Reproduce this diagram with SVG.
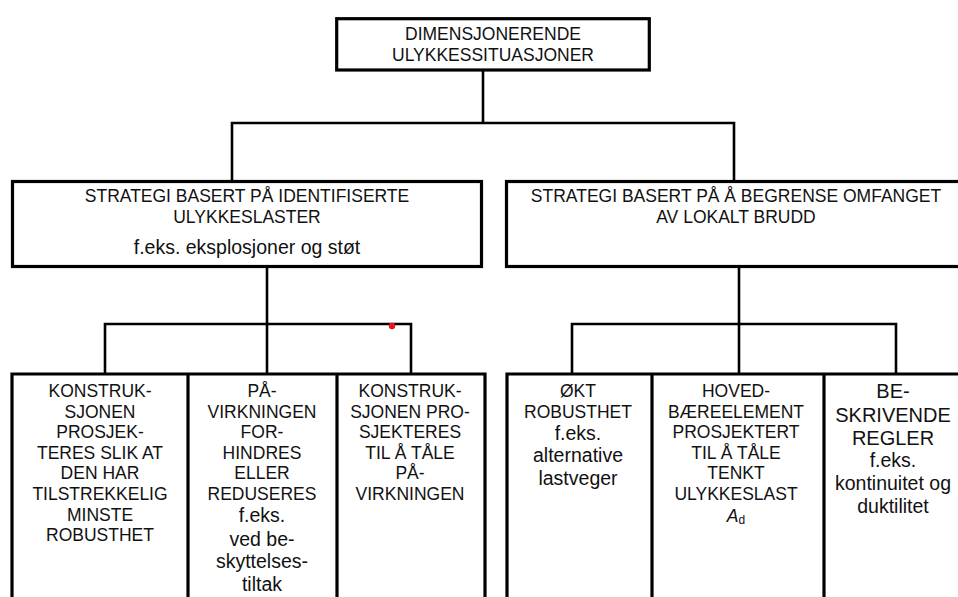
<svg xmlns="http://www.w3.org/2000/svg" width="958" height="597" viewBox="0 0 958 597">
<style>
text{font-family:"Liberation Sans",Arial,sans-serif;fill:#111;text-anchor:middle}
.c{font-size:17.5px}
.l{font-size:19.5px}
.b{font-size:20px}
.box{fill:#fff;stroke:#000;stroke-width:3.2}
.conn{fill:none;stroke:#000;stroke-width:2.6}
</style>
<rect width="958" height="597" fill="#fff"/>
<g id="connectors">
<path class="conn" d="M483 70 V123 M232 180 V123 H734 V180"/>
<path class="conn" d="M267 268 V324 M105 374 V324 H411 V374 M267 324 V374"/>
<path class="conn" d="M739 268 V324 M572 374 V324 H896 V374 M739 324 V374"/>
</g>
<g id="top">
<rect class="box" x="336.7" y="18.7" width="312.6" height="51.3"/>
<text class="c" x="493" y="40">DIMENSJONERENDE</text>
<text class="c" x="493" y="61">ULYKKESSITUASJONER</text>
</g>
<g id="strategy-left">
<rect class="box" x="12.5" y="181.5" width="469" height="85"/>
<text class="c" x="247" y="202">STRATEGI BASERT PÅ IDENTIFISERTE</text>
<text class="c" x="247" y="223">ULYKKESLASTER</text>
<text class="l" x="247" y="254">f.eks. eksplosjoner og støt</text>
</g>
<g id="strategy-right">
<rect class="box" x="506.5" y="181.5" width="470" height="85"/>
<text class="c" x="736" y="202">STRATEGI BASERT PÅ Å BEGRENSE OMFANGET</text>
<text class="c" x="736" y="223">AV LOKALT BRUDD</text>
</g>
<g id="bottom-left-frame">
<path class="box" d="M12 610 V374 H485 V610 M188 374 V610 M337 374 V610"/>
</g>
<g id="bottom-right-frame">
<path class="box" d="M507 610 V374 H975 M652 374 V610 M824 374 V610"/>
</g>
<g id="col1">
<text class="c" x="100" y="397">KONSTRUK-</text>
<text class="c" x="100" y="418">SJONEN</text>
<text class="c" x="100" y="438">PROSJEK-</text>
<text class="c" x="100" y="459">TERES SLIK AT</text>
<text class="c" x="100" y="479">DEN HAR</text>
<text class="c" x="100" y="500">TILSTREKKELIG</text>
<text class="c" x="100" y="521">MINSTE</text>
<text class="c" x="100" y="541">ROBUSTHET</text>
</g>
<g id="col2">
<text class="c" x="262" y="397">PÅ-</text>
<text class="c" x="262" y="418">VIRKNINGEN</text>
<text class="c" x="262" y="438">FOR-</text>
<text class="c" x="262" y="459">HINDRES</text>
<text class="c" x="262" y="479">ELLER</text>
<text class="c" x="262" y="500">REDUSERES</text>
<text class="l" x="262" y="522">f.eks.</text>
<text class="l" x="262" y="546">ved be-</text>
<text class="l" x="262" y="568">skyttelses-</text>
<text class="l" x="262" y="591">tiltak</text>
</g>
<g id="col3">
<text class="c" x="410" y="397">KONSTRUK-</text>
<text class="c" x="410" y="418">SJONEN PRO-</text>
<text class="c" x="410" y="438">SJEKTERES</text>
<text class="c" x="410" y="459">TIL Å TÅLE</text>
<text class="c" x="410" y="479">PÅ-</text>
<text class="c" x="410" y="500">VIRKNINGEN</text>
</g>
<g id="col4">
<text class="c" x="578" y="397">ØKT</text>
<text class="c" x="578" y="418">ROBUSTHET</text>
<text class="l" x="578" y="440">f.eks.</text>
<text class="l" x="578" y="462">alternative</text>
<text class="l" x="578" y="485">lastveger</text>
</g>
<g id="col5">
<text class="c" x="736" y="397">HOVED-</text>
<text class="c" x="736" y="418">BÆREELEMENT</text>
<text class="c" x="736" y="438">PROSJEKTERT</text>
<text class="c" x="736" y="459">TIL Å TÅLE</text>
<text class="c" x="736" y="479">TENKT</text>
<text class="c" x="736" y="500">ULYKKESLAST</text>
<text class="c" x="736" y="522"><tspan font-style="italic">A</tspan><tspan font-size="12" dy="2">d</tspan></text>
</g>
<g id="col6">
<text class="b" x="893" y="398">BE-</text>
<text class="b" x="893" y="422">SKRIVENDE</text>
<text class="b" x="893" y="445">REGLER</text>
<text class="l" x="893" y="467">f.eks.</text>
<text class="l" x="893" y="490">kontinuitet og</text>
<text class="l" x="893" y="513">duktilitet</text>
</g>
<circle cx="392" cy="326" r="3.2" fill="#e8141c"/>
</svg>
